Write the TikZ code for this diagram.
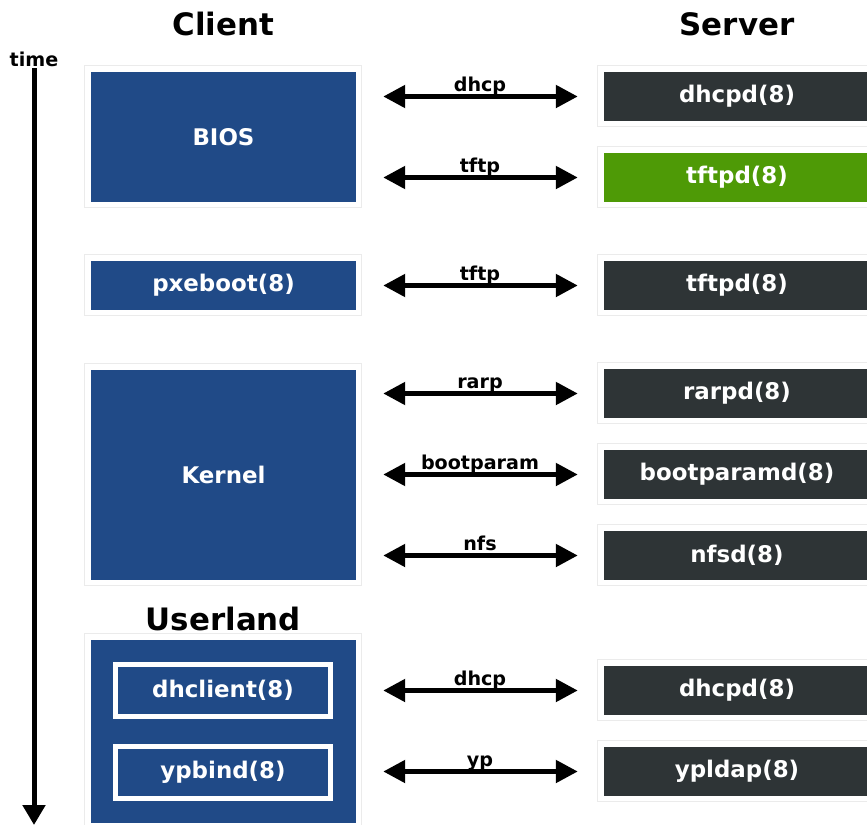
\documentclass[tikz,border=0pt]{standalone}
\usepackage{fontspec}
\setmainfont{DejaVu Sans}
\usetikzlibrary{arrows.meta}
\definecolor{cblue}{HTML}{204A87}
\definecolor{cdark}{HTML}{2E3436}
\definecolor{cgreen}{HTML}{4E9A06}
\definecolor{cframe}{HTML}{EBEBEB}
\begin{document}
\begin{tikzpicture}[x=1bp,y=-1bp,
  box/.style={inner sep=0pt, minimum width=266bp, text=white,
    font=\fontsize{23}{27}\selectfont\bfseries},
  lbox/.style={box, fill=cblue, minimum width=265bp},
  rbox/.style={box, fill=cdark, minimum height=49bp},
  inbox/.style={inner sep=0pt, draw=white, line width=5bp, fill=cblue, text=white,
    minimum width=215bp, minimum height=52bp,
    font=\fontsize{23}{27}\selectfont\bfseries},
  head/.style={font=\fontsize{31}{36}\selectfont\bfseries, inner sep=0pt},
  lbl/.style={font=\fontsize{19.2}{22}\selectfont\bfseries, inner sep=0pt},
  frame/.style={draw=cframe, line width=1bp},
  dblarrow/.style={line width=5bp, {Triangle[length=22bp,width=22bp]}-{Triangle[length=22bp,width=22bp]},
    shorten <=27bp, shorten >=26bp},
  timearrow/.style={line width=5bp, -{Triangle[length=20bp,width=22bp]}}
]
\useasboundingbox (0,0) rectangle (867,825);

% headers
\node[head] (client) at (223.5,24) {Client};
\node[head] (server) at (737,24) {Server};
\node[head] (userlandh) at (223.5,619) {Userland};
\node[lbl] (time) at (34,59) {time};

% time arrow
\coordinate (ttop) at (34,68);
\coordinate (tbot) at (34,825);
\draw[timearrow] (ttop) -- (tbot);

% left boxes
\node[lbox, minimum height=130bp] (bios) at (223.5,137) {BIOS};
\node[lbox, minimum height=49bp] (pxe) at (223.5,285.5) {pxeboot(8)};
\node[lbox, minimum height=210bp] (kernel) at (223.5,475) {Kernel};
\node[lbox, minimum height=183bp] (userland) at (223.5,731.5) {};
\node[inbox] (dhclient) at (223,690.5) {dhclient(8)};
\node[inbox] (ypbind) at (223,772) {ypbind(8)};

% right boxes
\node[rbox] (dhcpd) at (737,96.5) {dhcpd(8)};
\node[rbox, fill=cgreen] (tftpd1) at (737,177.5) {tftpd(8)};
\node[rbox] (tftpd2) at (737,285.5) {tftpd(8)};
\node[rbox] (rarpd) at (737,393.5) {rarpd(8)};
\node[rbox] (bootparamd) at (737,474.5) {bootparamd(8)};
\node[rbox] (nfsd) at (737,555.5) {nfsd(8)};
\node[rbox] (dhcpd2) at (737,690.5) {dhcpd(8)};
\node[rbox] (ypldap) at (737,771.5) {ypldap(8)};

% faint frames
\foreach \n in {bios,pxe,kernel,userland,dhcpd,tftpd1,tftpd2,rarpd,bootparamd,nfsd,dhcpd2,ypldap}{
  \draw[frame] ([shift={(-6,-6)}]\n.north west) rectangle ([shift={(5,5)}]\n.south east);
}

% connectors
\draw[dblarrow] (bios.east |- dhcpd.west) -- (dhcpd.west)
  node[lbl, midway, anchor=base, yshift=5bp] {dhcp};
\draw[dblarrow] (bios.east |- tftpd1.west) -- (tftpd1.west)
  node[lbl, midway, anchor=base, yshift=5bp] {tftp};
\draw[dblarrow] (pxe.east |- tftpd2.west) -- (tftpd2.west)
  node[lbl, midway, anchor=base, yshift=5bp] {tftp};
\draw[dblarrow] (kernel.east |- rarpd.west) -- (rarpd.west)
  node[lbl, midway, anchor=base, yshift=5bp] {rarp};
\draw[dblarrow] (kernel.east |- bootparamd.west) -- (bootparamd.west)
  node[lbl, midway, anchor=base, yshift=5bp] {bootparam};
\draw[dblarrow] (kernel.east |- nfsd.west) -- (nfsd.west)
  node[lbl, midway, anchor=base, yshift=5bp] {nfs};
\draw[dblarrow] (userland.east |- dhcpd2.west) -- (dhcpd2.west)
  node[lbl, midway, anchor=base, yshift=5bp] {dhcp};
\draw[dblarrow] (userland.east |- ypldap.west) -- (ypldap.west)
  node[lbl, midway, anchor=base, yshift=5bp] {yp};
\end{tikzpicture}
\end{document}
